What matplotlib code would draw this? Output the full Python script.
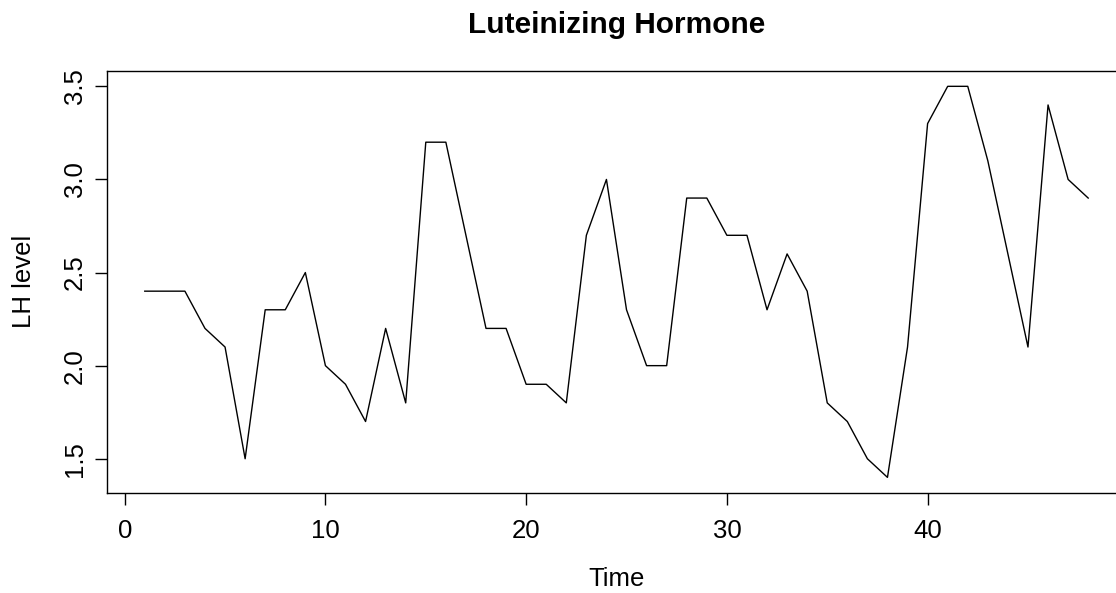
import numpy as np
import matplotlib.pyplot as plt

plt.rcParams['font.family'] = ['Liberation Sans', 'DejaVu Sans']

# lh series (luteinizing hormone), sampled every 10 minutes
time = np.arange(1, 49)
lh = [2.4, 2.4, 2.4, 2.2, 2.1, 1.5, 2.3, 2.3, 2.5, 2.0, 1.9, 1.7,
      2.2, 1.8, 3.2, 3.2, 2.7, 2.2, 2.2, 1.9, 1.9, 1.8, 2.7, 3.0,
      2.3, 2.0, 2.0, 2.9, 2.9, 2.7, 2.7, 2.3, 2.6, 2.4, 1.8, 1.7,
      1.5, 1.4, 2.1, 3.3, 3.5, 3.5, 3.1, 2.6, 2.1, 3.4, 3.0, 2.9]
xticks = [0, 10, 20, 30, 40]
yticks = [1.5, 2.0, 2.5, 3.0, 3.5]

fig = plt.figure(figsize=(11.16, 5.93), dpi=100)
# right edge of the box runs off the picture, as in the reference
ax = fig.add_axes([0.0959, 0.1686, 0.913, 0.7122])

ax.plot(time, lh, color='black', linewidth=1.0)

# R style 4% padding
xr = time[-1] - time[0]
ax.set_xlim(time[0] - 0.04 * xr, time[-1] + 0.04 * xr)
yr = max(lh) - min(lh)
ax.set_ylim(min(lh) - 0.04 * yr, max(lh) + 0.04 * yr)

ax.set_xticks(xticks)
ax.set_xticklabels([str(t) for t in xticks])
ax.set_yticks(yticks)
ax.set_yticklabels(['%.1f' % v for v in yticks], rotation=90, va='center')
ax.tick_params(direction='out', length=8.6, width=1.0, labelsize=18.5)
ax.tick_params(axis='x', pad=10)
ax.tick_params(axis='y', pad=6)

for s in ax.spines.values():
    s.set_linewidth(1.0)

ax.set_title('Luteinizing Hormone', fontsize=21.5, fontweight='bold', pad=27)
ax.set_xlabel('Time', fontsize=18.5)
ax.set_ylabel('LH level', fontsize=18.5)
ax.xaxis.set_label_coords(0.5, -0.175)
ax.yaxis.set_label_coords(-0.070, 0.5)

fig.savefig('out.png', dpi=100)
